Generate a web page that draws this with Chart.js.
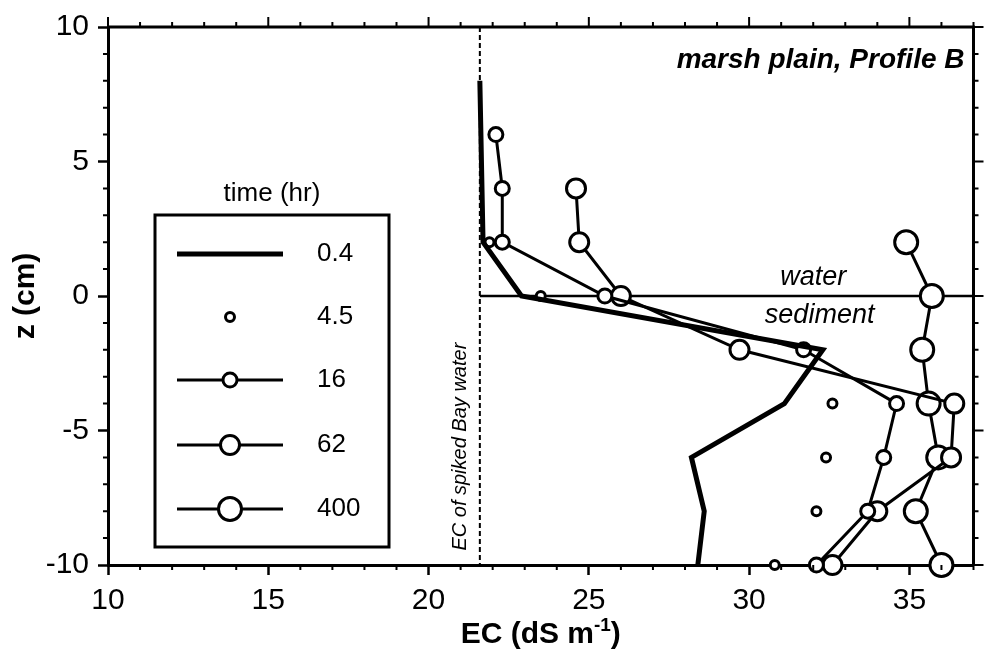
<!DOCTYPE html>
<html>
<head>
<meta charset="utf-8">
<script src="https://cdn.jsdelivr.net/npm/chart.js@4"></script>
<style>
  body { margin: 0; background: #fff; }
</style>
</head>
<body>
<canvas id="chart" width="988" height="665"></canvas>
<script>
// depth z (cm) and EC (dS m-1) read for each sampling time
const seriesLabels = ['0.4', '4.5', '16', '62', '400'];

const depth04 = [8, 2, 0, -2, -4, -6, -8, -10];
const ec04 = [21.6, 21.7, 22.9, 32.3, 31.1, 28.2, 28.6, 28.4];

const depth45 = [2, 0, -4, -6, -8, -10];
const ec45 = [21.9, 23.5, 32.6, 32.4, 32.1, 30.8];

const depth16 = [6, 4, 2, 0, -2, -4, -6, -8, -10];
const ec16 = [22.1, 22.3, 22.3, 25.5, 31.7, 34.6, 34.2, 33.7, 32.1];

const depth62 = [4, 2, 0, -2, -4, -6, -8, -10];
const ec62 = [24.6, 24.7, 26.0, 29.7, 36.4, 36.3, 34.0, 32.6];

const depth400 = [2, 0, -2, -4, -6, -8, -10];
const ec400 = [34.9, 35.7, 35.4, 35.6, 35.9, 35.2, 36.0];

const xTicks = [10, 15, 20, 25, 30, 35];
const yTicks = [-10, -5, 0, 5, 10];
const bayWaterEC = 21.6;   // EC of spiked Bay water

const pts = (ec, z) => ec.map((v, i) => ({ x: v, y: z[i] }));

Chart.defaults.font.family = '"Liberation Sans", Arial, sans-serif';
Chart.defaults.color = '#000';

const extras = {
    id: 'extras',
    beforeDatasetsDraw(chart) {
        const { ctx, chartArea: a, scales: { x, y } } = chart;
        ctx.save();
        ctx.strokeStyle = '#000';
        // dashed reference line
        const bx = x.getPixelForValue(bayWaterEC);
        ctx.lineWidth = 2;
        ctx.setLineDash([5, 3]);
        ctx.beginPath();
        ctx.moveTo(bx, a.top);
        ctx.lineTo(bx, a.bottom);
        ctx.stroke();
        // water / sediment interface
        ctx.setLineDash([]);
        ctx.lineWidth = 2.5;
        const y0 = y.getPixelForValue(0);
        ctx.beginPath();
        ctx.moveTo(bx, y0);
        ctx.lineTo(a.right, y0);
        ctx.stroke();
        ctx.restore();
    },
    afterDraw(chart) {
        const { ctx, chartArea: a, scales: { x, y } } = chart;
        ctx.save();
        ctx.strokeStyle = '#000';
        ctx.fillStyle = '#000';

        // top + right frame
        ctx.lineWidth = 3;
        ctx.beginPath();
        ctx.moveTo(a.left, a.top);
        ctx.lineTo(a.right, a.top);
        ctx.lineTo(a.right, a.bottom);
        ctx.stroke();

        // minor ticks + mirrored ticks
        ctx.lineWidth = 2;
        ctx.beginPath();
        for (let v = x.min; v <= x.max; v++) {
            const px = x.getPixelForValue(v);
            const len = v % 5 === 0 ? 10 : 5;
            if (v % 5 !== 0) {
                ctx.moveTo(px, a.bottom);
                ctx.lineTo(px, a.bottom + len);
            }
            ctx.moveTo(px, a.top);
            ctx.lineTo(px, a.top - len);
        }
        for (let v = y.min; v <= y.max; v++) {
            const py = y.getPixelForValue(v);
            const len = v % 5 === 0 ? 10 : 5;
            if (v % 5 !== 0) {
                ctx.moveTo(a.left, py);
                ctx.lineTo(a.left - len, py);
            }
            ctx.moveTo(a.right, py);
            ctx.lineTo(a.right + len, py);
        }
        ctx.stroke();

        // x axis title with superscript
        ctx.textBaseline = 'alphabetic';
        const big = 'bold 30px "Liberation Sans", Arial, sans-serif';
        const small = 'bold 19px "Liberation Sans", Arial, sans-serif';
        const parts = [['EC (dS m', big, 0], ['-1', small, -12], [')', big, 0]];
        let total = 0;
        parts.forEach(p => { ctx.font = p[1]; total += ctx.measureText(p[0]).width; });
        let tx = (a.left + a.right) / 2 - total / 2;
        parts.forEach(p => {
            ctx.font = p[1];
            ctx.textAlign = 'left';
            ctx.fillText(p[0], tx, 643 + p[2]);
            tx += ctx.measureText(p[0]).width;
        });

        // panel label
        ctx.font = 'italic bold 28px "Liberation Sans", Arial, sans-serif';
        ctx.textAlign = 'right';
        ctx.fillText('marsh plain, Profile B', a.right - 9, a.top + 41);

        // water / sediment
        ctx.font = 'italic 27px "Liberation Sans", Arial, sans-serif';
        ctx.textAlign = 'center';
        const y0 = y.getPixelForValue(0);
        ctx.fillText('water', x.getPixelForValue(32.0), y0 - 11);
        ctx.fillText('sediment', x.getPixelForValue(32.2), y0 + 27);

        // vertical label next to the dashed line
        ctx.save();
        ctx.translate(x.getPixelForValue(bayWaterEC) - 19, y.getPixelForValue(-5.6));
        ctx.rotate(-Math.PI / 2);
        ctx.font = 'italic 20px "Liberation Sans", Arial, sans-serif';
        ctx.textBaseline = 'middle';
        ctx.fillText('EC of spiked Bay water', 0, 0);
        ctx.restore();

        // legend box
        const lx = a.left + 47, ly = a.top + 188, lw = 234, lh = 332;
        ctx.lineWidth = 3;
        ctx.strokeRect(lx, ly, lw, lh);
        ctx.font = '26px "Liberation Sans", Arial, sans-serif';
        ctx.textAlign = 'center';
        ctx.textBaseline = 'middle';
        ctx.fillText('time (hr)', lx + lw / 2, ly - 21);

        const rowY = [39, 102, 165, 230, 294];
        chart.data.datasets.forEach((ds, i) => {
            const cy = ly + rowY[i];
            const cx = lx + 75;
            if (ds.showLine !== false) {
                ctx.lineWidth = ds.borderWidth;
                ctx.beginPath();
                ctx.moveTo(lx + 22, cy);
                ctx.lineTo(lx + 128, cy);
                ctx.stroke();
            }
            if (ds.pointRadius > 0) {
                ctx.lineWidth = ds.pointBorderWidth;
                ctx.fillStyle = '#fff';
                ctx.beginPath();
                ctx.arc(cx, cy, ds.pointRadius, 0, Math.PI * 2);
                ctx.fill();
                ctx.stroke();
            }
            ctx.fillStyle = '#000';
            ctx.textAlign = 'left';
            ctx.fillText(ds.label, lx + 162, cy);
        });
        ctx.restore();
    }
};

function series(label, ec, z, radius, lineWidth, showLine) {
    return {
        label: label,
        data: pts(ec, z),
        showLine: showLine,
        borderColor: '#000',
        borderWidth: lineWidth,
        pointRadius: radius,
        pointBorderWidth: 3,
        pointBackgroundColor: '#fff',
        pointBorderColor: '#000',
        clip: false
    };
}

new Chart(document.querySelector('#chart'), {
    type: 'scatter',
    data: {
        datasets: [
            series(seriesLabels[0], ec04, depth04, 0, 5, true),
            series(seriesLabels[1], ec45, depth45, 4.5, 2.5, false),
            series(seriesLabels[2], ec16, depth16, 7, 3, true),
            series(seriesLabels[3], ec62, depth62, 9.5, 3, true),
            series(seriesLabels[4], ec400, depth400, 11.5, 3, true)
        ]
    },
    options: {
        responsive: false,
        animation: false,
        layout: { padding: { top: 25, right: 6, left: 0, bottom: 0 } },
        plugins: { legend: { display: false }, tooltip: { enabled: false } },
        scales: {
            x: {
                type: 'linear',
                min: 10,
                max: 37,
                afterFit: s => { s.height = 100; },
                afterBuildTicks: s => { s.ticks = xTicks.map(v => ({ value: v })); },
                ticks: { font: { size: 30 }, padding: 8, color: '#000' },
                grid: { drawOnChartArea: false, tickLength: 10, tickWidth: 2.5, tickColor: '#000' },
                border: { color: '#000', width: 3 }
            },
            y: {
                type: 'linear',
                min: -10,
                max: 10,
                afterFit: s => { s.width = 108; },
                afterBuildTicks: s => { s.ticks = yTicks.map(v => ({ value: v })); },
                ticks: { font: { size: 30 }, padding: 9, color: '#000' },
                grid: { drawOnChartArea: false, tickLength: 10, tickWidth: 2.5, tickColor: '#000' },
                border: { color: '#000', width: 3 },
                title: {
                    display: true,
                    text: 'z (cm)',
                    font: { size: 30, weight: 'bold' },
                    padding: { top: 8, bottom: 0 }
                }
            }
        }
    },
    plugins: [extras]
});
</script>
</body>
</html>
